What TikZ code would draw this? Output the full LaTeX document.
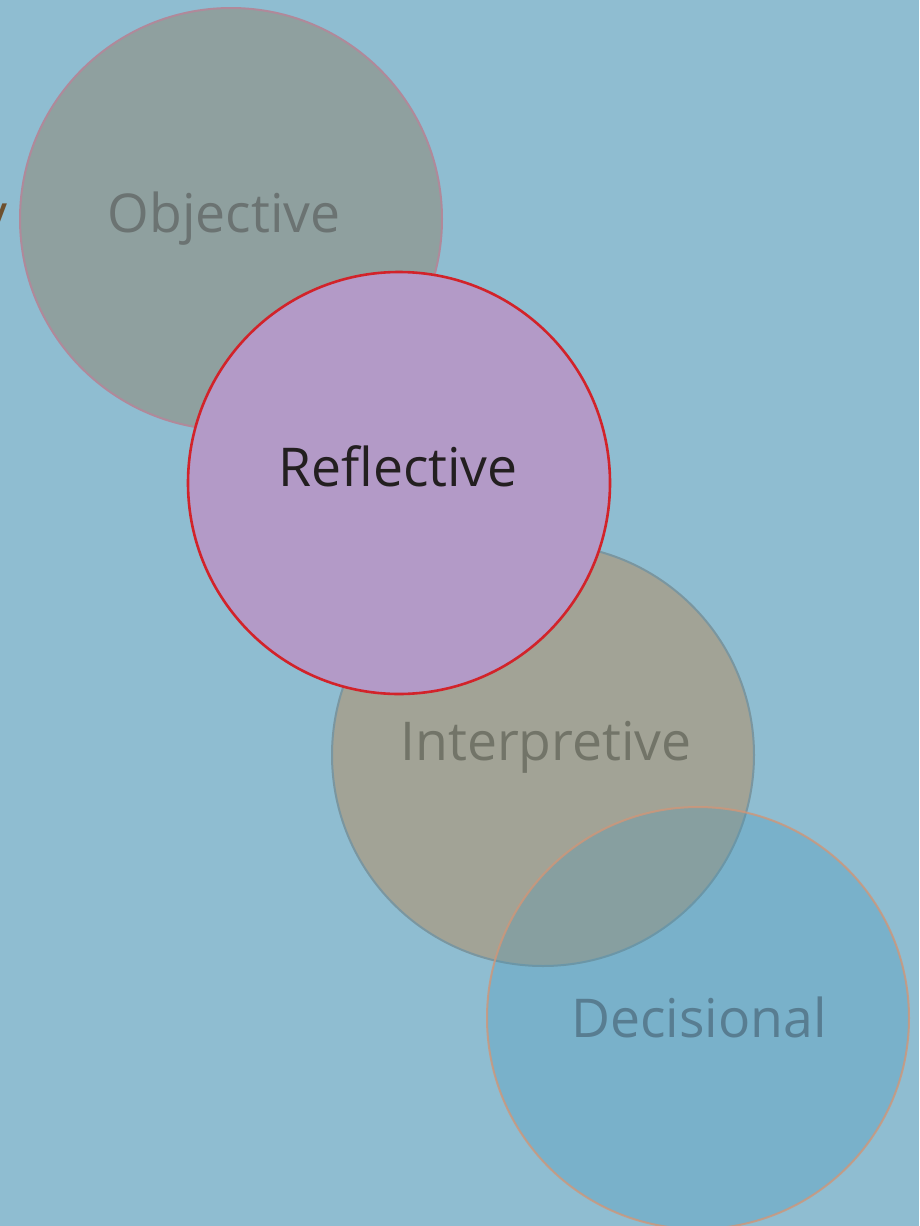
\documentclass[tikz,border=0pt]{standalone}
\usepackage{fontspec}
\setmainfont{Open Sans}
\definecolor{bg}{RGB}{143,189,209}
\definecolor{objfill}{RGB}{143,160,159}
\definecolor{objdraw}{RGB}{176,137,154}
\definecolor{objtext}{RGB}{107,115,114}
\definecolor{reffill}{RGB}{179,154,199}
\definecolor{refdraw}{RGB}{210,35,42}
\definecolor{reftext}{RGB}{35,31,32}
\definecolor{intfill}{RGB}{162,163,150}
\definecolor{intdraw}{RGB}{122,150,160}
\definecolor{inttext}{RGB}{114,116,104}
\definecolor{decfill}{RGB}{73,152,186}
\definecolor{decdraw}{RGB}{208,150,120}
\definecolor{dectext}{RGB}{88,125,145}
\definecolor{ytext}{RGB}{110,80,45}
\begin{document}
\begin{tikzpicture}[x=1pt,y=-1pt,
  bubble/.style={circle, minimum size=422pt, inner sep=0pt},
  lbl/.style={anchor=base, inner sep=0pt, font=\fontsize{53.5}{60}\selectfont}]
\useasboundingbox (0,0) rectangle (919,1226);
\fill[bg] (0,0) rectangle (919,1226);
\begin{scope}
\clip (0,0) rectangle (919,1226);
\node[bubble, fill=objfill, draw=objdraw, line width=2pt] (obj) at (231,219) {};
\node[bubble, fill=intfill, draw=intdraw, line width=2pt] (int) at (543,755) {};
\node[bubble, fill=decfill, fill opacity=0.3, draw=decdraw, draw opacity=0.8, line width=2pt] (dec) at (698,1018) {};
\node[bubble, fill=reffill, draw=refdraw, line width=2.6pt] (ref) at (399,483) {};
\node[lbl, text=objtext] (tobj) at (224,232) {Objective};
\node[lbl, text=reftext] (tref) at (398,486) {Reflective};
\node[lbl, text=inttext] (tint) at (546,760) {Interpretive};
\node[lbl, text=dectext] (tdec) at (699,1037) {Decisional};
\node[lbl, anchor=base east, text=ytext] (ty) at (8,232) {y};
\end{scope}
\end{tikzpicture}
\end{document}
